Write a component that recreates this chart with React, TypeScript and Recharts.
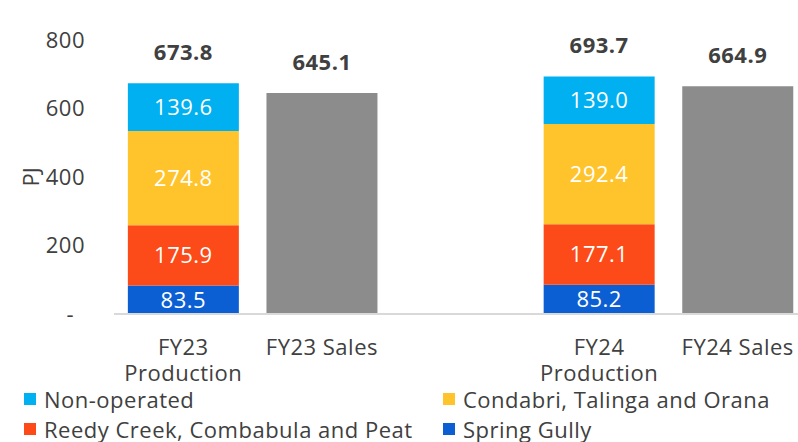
import React from 'react';
import { BarChart, Bar, XAxis, YAxis, LabelList } from 'recharts';

const categories = ['FY23\nProduction', 'FY23 Sales', '', 'FY24\nProduction', 'FY24 Sales'];
const springGully = [83.5, null, null, 85.2, null];
const reedyCreek = [175.9, null, null, 177.1, null];
const condabri = [274.8, null, null, 292.4, null];
const nonOperated = [139.6, null, null, 139.0, null];
const sales = [null, 645.1, null, null, 664.9];
const productionTotals = [673.8, null, null, 693.7, null];
const salesTotals = [null, 645.1, null, null, 664.9];
const yTicks = [0, 200, 400, 600, 800];

const FONT = '"Open Sans", sans-serif';
const TEXT = '#404040';
const FS = 22;
const LS = 0.5;

const series = [
  { key: 'nonOperated', name: 'Non-operated', color: '#00B0F0' },
  { key: 'condabri', name: 'Condabri, Talinga and Orana', color: '#FFC42B' },
  { key: 'reedyCreek', name: 'Reedy Creek, Combabula and Peat', color: '#FC4A18' },
  { key: 'springGully', name: 'Spring Gully', color: '#0B5FD3' },
];

const data = categories.map((name, i) => ({
  name,
  springGully: springGully[i],
  reedyCreek: reedyCreek[i],
  condabri: condabri[i],
  nonOperated: nonOperated[i],
  sales: sales[i],
  prodTotal: productionTotals[i],
  salesTotal: salesTotals[i],
}));

const fmt = (v: any) => (v == null ? '' : Number(v).toFixed(1));

const XTick = ({ x, y, payload }: any) => {
  const lines = String(payload.value).split('\n');
  return (
    <text x={x} y={y} textAnchor="middle" fill={TEXT} fontSize={FS} letterSpacing={LS} fontFamily={FONT}>
      {lines.map((l, i) => (
        <tspan key={i} x={x} dy={i === 0 ? 33 : 26}>
          {l}
        </tspan>
      ))}
    </text>
  );
};

const YTick = ({ x, y, payload }: any) => {
  const zero = payload.value === 0;
  return (
    <text
      x={zero ? x - 32 : x - 21}
      y={y}
      dy="0.35em"
      textAnchor="end"
      fill={TEXT}
      fontSize={FS}
      letterSpacing={LS}
      fontFamily={FONT}
    >
      {zero ? '-' : payload.value}
    </text>
  );
};

const TotalLabel = ({ x, y, width, value }: any) => {
  if (value == null) return null;
  return (
    <text
      x={Number(x) + Number(width) / 2}
      y={Number(y) - 31}
      dy="0.35em"
      textAnchor="middle"
      fill={TEXT}
      fontSize={FS}
      letterSpacing={LS}
      fontWeight={700}
      fontFamily={FONT}
    >
      {fmt(value)}
    </text>
  );
};

const stackOrder = ['springGully', 'reedyCreek', 'condabri', 'nonOperated'];

export default function App() {
  return (
    <div style={{ position: 'absolute', left: 0, top: 0, width: 798, height: 442, overflow: 'hidden', background: '#fff' }}>
      <BarChart
        width={807}
        height={442}
        data={data}
        margin={{ top: 40, right: 0, left: 0, bottom: 58 }}
        barCategoryGap="10%"
      >
        <XAxis
          dataKey="name"
          interval={0}
          height={70}
          tickLine={false}
          axisLine={{ stroke: '#D9D9D9', strokeWidth: 2 }}
          tick={<XTick />}
        />
        <YAxis
          width={114}
          domain={[0, 800]}
          ticks={yTicks}
          axisLine={false}
          tickLine={false}
          tick={<YTick />}
          label={{
            content: () => (
              <text
                x={30}
                y={177}
                transform="rotate(-90, 30, 177)"
                textAnchor="middle"
                dominantBaseline="central"
                fill={TEXT}
                fontSize={FS}
                fontFamily={FONT}
              >
                PJ
              </text>
            ),
          }}
        />
        {stackOrder.map((k) => {
          const s = series.find((d) => d.key === k)!;
          return (
            <Bar key={k} dataKey={k} name={s.name} stackId="a" fill={s.color} isAnimationActive={false}>
              <LabelList
                dataKey={k}
                position="center"
                formatter={fmt}
                fill="#FFFFFF"
                fontSize={FS}
                letterSpacing={LS}
                fontFamily={FONT}
              />
              {k === 'nonOperated' && <LabelList dataKey="prodTotal" content={<TotalLabel />} />}
            </Bar>
          );
        })}
        <Bar dataKey="sales" name="Sales" stackId="a" fill="#8C8C8C" isAnimationActive={false}>
          <LabelList dataKey="salesTotal" content={<TotalLabel />} />
        </Bar>
      </BarChart>
      <div
        style={{
          position: 'absolute',
          left: 24,
          top: 384,
          width: 760,
          display: 'grid',
          gridTemplateColumns: '419px auto',
          fontFamily: FONT,
          fontSize: FS,
          letterSpacing: LS,
          color: TEXT,
        }}
      >
        {series.map((s) => (
          <div key={s.key} style={{ display: 'flex', alignItems: 'center', height: 30, whiteSpace: 'nowrap' }}>
            <span style={{ width: 12, height: 12, background: s.color, marginRight: 8, display: 'inline-block' }} />
            {s.name}
          </div>
        ))}
      </div>
    </div>
  );
}
